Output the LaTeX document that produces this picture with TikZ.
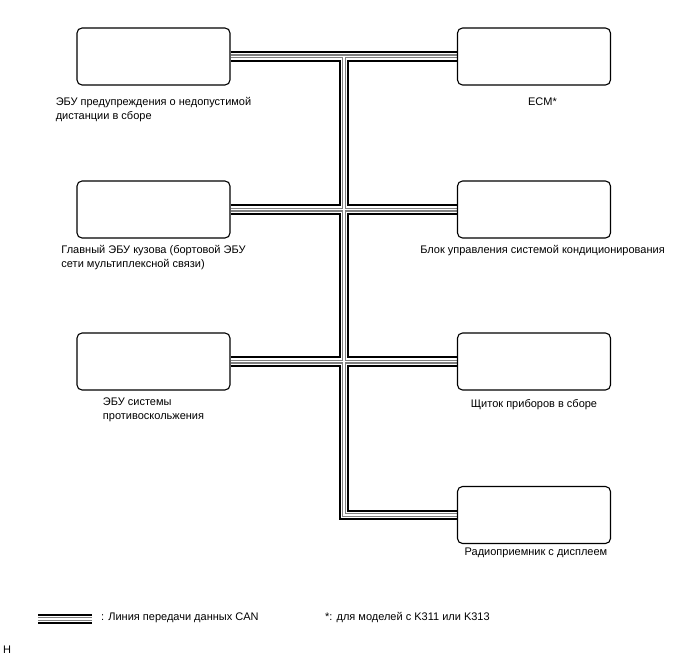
\documentclass[tikz,border=0pt]{standalone}
\usepackage{fontspec}
\setmainfont{Liberation Sans}
\usetikzlibrary{backgrounds}
\tikzset{
  ecu/.style={draw, line width=1.1pt, rounded corners=5pt, minimum width=153pt, minimum height=57pt, inner sep=0pt},
  lbl/.style={anchor=north, align=left, inner sep=0pt, font=\fontsize{11}{14}\selectfont},
  txt/.style={inner sep=0pt, font=\fontsize{11}{14}\selectfont},
  busA/.style={line width=10.5pt, black},
  busB/.style={line width=6.6pt, white},
  busC/.style={line width=4pt, black!50},
  busD/.style={line width=1.4pt, white}
}
\begin{document}
\begin{tikzpicture}[x=1pt,y=-1pt]
\useasboundingbox (0,0) rectangle (688,658);
% boxes
\node[ecu] (L1) at (153.5,56.5) {};
\node[ecu] (R1) at (534,56.5) {};
\node[ecu] (L2) at (153.5,209.5) {};
\node[ecu] (R2) at (534,209.5) {};
\node[ecu] (L3) at (153.5,361.5) {};
\node[ecu] (R3) at (534,361.5) {};
\node[ecu] (R4) at (534,515) {};
\coordinate (J1) at (344,56.5);
\coordinate (J4) at (344,515);
\coordinate (LgA) at (38,619);
\coordinate (LgB) at (92,619);
% CAN bus
\begin{pgfonlayer}{background}
\foreach \s in {busA,busB,busC,busD} {
  \draw[\s] (L1.east) -- (R1.west)
            (L2.east) -- (R2.west)
            (L3.east) -- (R3.west)
            (J1) -- (J4) -- (R4.west)
            (LgA) -- (LgB);
}
\end{pgfonlayer}
% labels
\node[lbl] (tL1) at (153.5,97) {ЭБУ предупреждения о недопустимой\\дистанции в сборе};
\node[lbl] (tR1) at (542.5,98) {ECM*};
\node[lbl] (tL2) at (153.5,245) {Главный ЭБУ кузова (бортовой ЭБУ\\сети мультиплексной связи)};
\node[lbl] (tR2) at (542.5,245) {Блок управления системой кондиционирования};
\node[lbl] (tL3) at (153.5,398) {ЭБУ системы\\противоскольжения};
\node[lbl] (tR3) at (534,399) {Щиток приборов в сборе};
\node[lbl] (tR4) at (536,548) {Радиоприемник с дисплеем};
% legend
\node[txt, anchor=west] (lg) at (101,618) {: Линия передачи данных CAN};
\node[txt, anchor=west] (note) at (325,618) {*: для моделей с K311 или K313};
\node[txt, anchor=west] (H) at (3,650) {H};
\end{tikzpicture}
\end{document}
